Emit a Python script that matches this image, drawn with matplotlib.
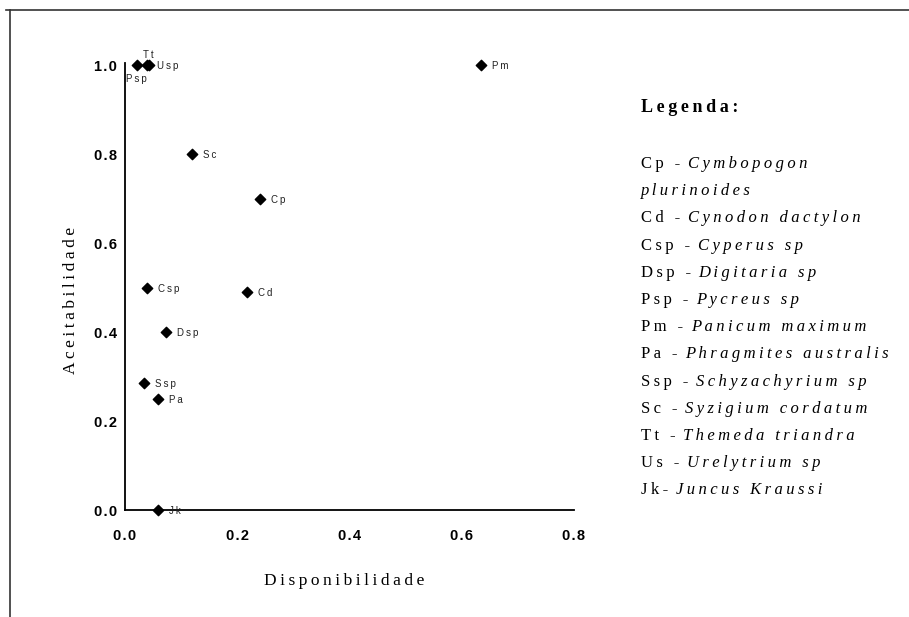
import matplotlib
matplotlib.use("Agg")
import matplotlib.pyplot as plt
from matplotlib.lines import Line2D

# ---- data ----
point_labels = ["Psp", "Tt", "Usp", "Pm", "Sc", "Cp", "Csp", "Cd", "Dsp", "Ssp", "Pa", "Jk"]
disponibilidade = [0.022, 0.039, 0.043, 0.634, 0.120, 0.241, 0.039, 0.217, 0.073, 0.033, 0.058, 0.058]
aceitabilidade = [1.00, 1.00, 1.00, 1.00, 0.80, 0.70, 0.50, 0.49, 0.40, 0.286, 0.25, 0.00]

x_ticks = [0.0, 0.2, 0.4, 0.6, 0.8]
y_ticks = [0.0, 0.2, 0.4, 0.6, 0.8, 1.0]

legend_abbr = ["Cp - ", "", "Cd - ", "Csp - ", "Dsp - ", "Psp - ", "Pm - ", "Pa - ",
               "Ssp - ", "Sc - ", "Tt - ", "Us - ", "Jk- "]
legend_names = ["Cymbopogon", "plurinoides", "Cynodon dactylon", "Cyperus sp", "Digitaria sp",
                "Pycreus sp", "Panicum maximum", "Phragmites australis", "Schyzachyrium sp",
                "Syzigium cordatum", "Themeda triandra", "Urelytrium sp", "Juncus Kraussi"]

SP = "\u2009"


def spaced(s, sep=SP):
    return sep.join(list(s))


W, H = 909, 617
fig = plt.figure(figsize=(W / 100, H / 100), dpi=100)
fig.patch.set_facecolor("white")

# outer frame (top and left lines)
fig.add_artist(Line2D([6 / W, 1.0], [1 - 10 / H, 1 - 10 / H], color="#333333", lw=1.2))
fig.add_artist(Line2D([10 / W, 10 / W], [1 - 10 / H, 0.0], color="#333333", lw=1.2))

ax = fig.add_axes([125 / W, 1 - 510 / H, (574 - 125) / W, (510 - 63) / H])
ax.set_xlim(0, 0.8)
ax.set_ylim(0, 1.0045)
for s in ["top", "right"]:
    ax.spines[s].set_visible(False)
for s in ["left", "bottom"]:
    ax.spines[s].set_linewidth(1.3)
    ax.spines[s].set_color("black")

ax.scatter(disponibilidade, aceitabilidade, marker="D", s=28, color="black", clip_on=False, zorder=3)

offsets = {"Psp": (-8, -10), "Tt": (-3, 7), "Usp": (6, -1)}
for lab, xv, yv in zip(point_labels, disponibilidade, aceitabilidade):
    dx, dy = offsets.get(lab, (8, -1))
    ax.annotate(spaced(lab), (xv, yv), xytext=(dx, dy), textcoords="offset points",
                fontsize=7, family="Liberation Sans", color="#222222", va="center", ha="left")

ax.set_xticks(x_ticks)
ax.set_yticks(y_ticks)
ax.set_xticklabels([spaced(f"{v:.1f}", "\u200a") for v in x_ticks])
ax.set_yticklabels([spaced(f"{v:.1f}", "\u200a") for v in y_ticks])
ax.tick_params(axis="both", length=0, labelsize=10.5)
ax.tick_params(axis="x", pad=14)
ax.tick_params(axis="y", pad=6)
for t in ax.get_xticklabels() + ax.get_yticklabels():
    t.set_family("Liberation Sans")
    t.set_fontweight("bold")

fig.text(344 / W, 1 - 581 / H, spaced("Disponibilidade"), family="Liberation Serif",
         fontsize=12.5, ha="center", va="center")
fig.text(71 / W, 1 - 300 / H, spaced("Aceitabilidade"), family="Liberation Serif",
         fontsize=12.5, ha="center", va="center", rotation=90)

# legend block
fig.text(641 / W, 1 - 107 / H, spaced("Legenda:"), family="Liberation Serif", fontsize=13,
         fontweight="bold", ha="left", va="center")
y0 = 168
step = 27.2
for i, (ab, nm) in enumerate(zip(legend_abbr, legend_names)):
    yy = 1 - (y0 + i * step) / H
    if ab:
        t1 = fig.text(641 / W, yy, spaced(ab), family="Liberation Serif", fontsize=12,
                      ha="left", va="baseline")
        fig.add_artist(plt.Annotation(spaced(nm), xy=(1, 0), xycoords=t1, va="bottom", ha="left",
                                      family="Liberation Serif", style="italic", fontsize=12))
    else:
        fig.text(641 / W, yy, spaced(nm), family="Liberation Serif", style="italic",
                 fontsize=12, ha="left", va="baseline")

fig.savefig("out.png", dpi=100, facecolor="white")
